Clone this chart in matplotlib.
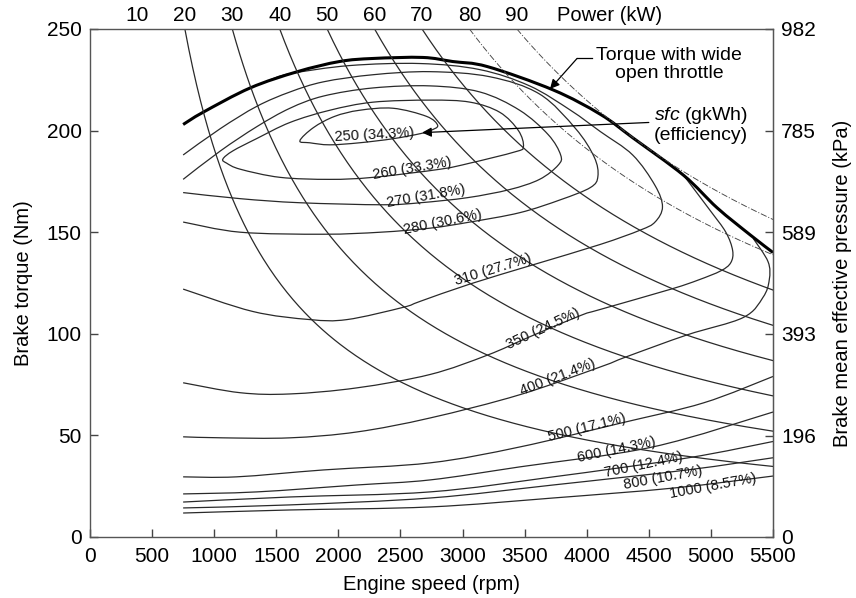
import numpy as np
import matplotlib
matplotlib.use('Agg')
import matplotlib.pyplot as plt
from matplotlib.path import Path
from matplotlib.patches import PathPatch

plt.rcParams['font.family'] = ['Liberation Sans', 'DejaVu Sans']
plt.rcParams['mathtext.fontset'] = 'custom'
plt.rcParams['mathtext.it'] = 'Liberation Sans:italic'
plt.rcParams['mathtext.rm'] = 'Liberation Sans'

# ---- data ----
# wide open throttle torque curve
wot_rpm = [750, 910, 1290, 1670, 2010, 2280, 2680, 2920, 3200, 3730, 4110, 4370, 4780, 5050, 5320, 5500]
wot_nm = [203, 209, 221, 229, 234, 235.5, 236, 234, 231.5, 220, 208, 196.5, 178, 162, 148.5, 140]

# constant power lines (kW)
power_solid = [20, 30, 40, 50, 60, 70]
power_dashed = [80, 90]
power_ticks = [10, 20, 30, 40, 50, 60, 70, 80, 90]

# sfc contours (g/kWh), each traced as rpm / torque lists
sfc_250_rpm = [1690, 1800, 1970, 2170, 2440, 2710, 2800, 2740, 2660, 2440, 2170, 1930, 1770]
sfc_250_nm = [195, 201.5, 207, 210, 211, 207, 202.5, 200, 198.5, 196, 194, 193, 194]

sfc_260_rpm = [1070, 1150, 1340, 1610, 1930, 2280, 2740, 3060, 3300, 3450, 3490, 3420, 3060, 2820,
               2280, 1930, 1530, 1210, 1100]
sfc_260_nm = [186, 190, 196, 204, 210, 214, 215, 214, 209, 200, 192, 189.5, 184, 181,
              177, 176, 177, 181, 184]

sfc_270_rpm = [750, 1050, 1345, 1610, 1880, 2280, 2740, 3140, 3460, 3690, 3790, 3770, 3620, 3380,
               3040, 2660, 2360, 1690, 1210, 750]
sfc_270_nm = [176, 190, 202, 211, 217, 221, 222, 219, 210, 198, 188, 183, 176, 171,
              167, 164.5, 163.5, 164.5, 166.5, 169.5]

sfc_280_rpm = [750, 1050, 1345, 1610, 1880, 2280, 2740, 3220, 3620, 3910, 4060, 4090, 4030, 3790,
               3460, 3060, 2740, 2340, 1880, 1210, 750]
sfc_280_nm = [188, 201, 212, 219, 224, 227.5, 229, 226.5, 218, 201, 187, 177.5, 172, 166,
              159.6, 155, 152, 150, 149, 150, 155]

sfc_310_rpm = [1450, 1610, 2090, 2660, 3140, 3540, 3870, 4110, 4370, 4550, 4610, 4550, 4430, 4110,
               3570, 3060, 2660, 2520, 2070, 1770, 1310, 750]
sfc_310_nm = [225, 228, 232, 233, 230, 222, 210, 199.5, 188, 173, 162.5, 155, 151, 144,
              134, 124.5, 116, 113, 107, 107, 111, 122]

sfc_350_rpm = [4780, 4990, 5120, 5175, 5160, 5080, 4900, 4680, 4110, 3950, 3540, 3200, 2740, 2150,
               1610, 1210, 750]
sfc_350_nm = [178, 161, 150, 141, 135, 131, 126.5, 122, 112, 109, 98.5, 89.5, 80, 73.4,
              70.4, 71, 75.9]

sfc_400_rpm = [5340, 5460, 5470, 5420, 5260, 4810, 4320, 4110, 3460, 2740, 2150, 1610, 1070, 750]
sfc_400_nm = [147, 135.5, 126.6, 118, 108, 99.5, 88.7, 83.7, 70, 58.6, 51.7, 48.8, 48.8, 49.3]

sfc_500_rpm = [750, 1180, 1880, 2740, 3460, 4270, 4940, 5500]
sfc_500_nm = [29.6, 29.6, 33, 36.5, 44.3, 56, 66, 79]

sfc_600_rpm = [750, 1345, 2150, 2740, 3460, 4530, 5500]
sfc_600_nm = [21.2, 22.2, 25.6, 28.1, 34.5, 44.3, 61.5]

sfc_700_rpm = [750, 1610, 2740, 3730, 4810, 5500]
sfc_700_nm = [17.2, 19.7, 22.2, 29.6, 38.9, 47]

sfc_800_rpm = [750, 1610, 2740, 3730, 4810, 5500]
sfc_800_nm = [14.3, 15.8, 19.2, 25.6, 33, 39]

sfc_1000_rpm = [750, 1610, 2740, 3730, 4700, 5500]
sfc_1000_nm = [11.8, 13.3, 14.8, 19.2, 24.1, 30]

# contour labels: text, position (rpm, Nm), rotation (deg)
sfc_labels = ['250 (34.3%)', '260 (33.3%)', '270 (31.8%)', '280 (30.6%)', '310 (27.7%)',
              '350 (24.5%)', '400 (21.4%)', '500 (17.1%)', '600 (14.3%)', '700 (12.4%)',
              '800 (10.7%)', '1000 (8.57%)']
label_rpm = [2287, 2593, 2706, 2843, 3245, 3648, 3769, 4002, 4244, 4461, 4614, 5017]
label_nm = [197.9, 181.2, 167.5, 154.7, 131.6, 102.2, 78.6, 54, 42.7, 35.4, 29, 25]
label_rot = [3, 9.5, 10, 11.5, 17, 25, 21, 14, 12, 12, 10.5, 10.5]

bmep_ticks = [0, 196, 393, 589, 785, 982]
NM_TO_KPA = 982 / 250.0

open_curves = [(sfc_270_rpm, sfc_270_nm), (sfc_280_rpm, sfc_280_nm), (sfc_310_rpm, sfc_310_nm),
               (sfc_350_rpm, sfc_350_nm), (sfc_400_rpm, sfc_400_nm), (sfc_500_rpm, sfc_500_nm),
               (sfc_600_rpm, sfc_600_nm), (sfc_700_rpm, sfc_700_nm), (sfc_800_rpm, sfc_800_nm),
               (sfc_1000_rpm, sfc_1000_nm)]
closed_curves = [(sfc_250_rpm, sfc_250_nm), (sfc_260_rpm, sfc_260_nm)]


def smooth_path(xs, ys, closed=False):
    """Catmull-Rom style cubic path through the traced points."""
    pts = np.column_stack([xs, ys]).astype(float)
    n = len(pts)
    verts = [pts[0]]
    codes = [Path.MOVETO]
    nseg = n if closed else n - 1
    for i in range(nseg):
        p1 = pts[i]
        p2 = pts[(i + 1) % n]
        if closed or i > 0:
            p0 = pts[(i - 1) % n]
        else:
            p0 = p1
        if closed or i + 2 < n:
            p3 = pts[(i + 2) % n]
        else:
            p3 = p2
        verts += [p1 + (p2 - p0) / 6.0, p2 - (p3 - p1) / 6.0, p2]
        codes += [Path.CURVE4] * 3
    return Path(verts, codes)


fig = plt.figure(figsize=(8.56, 5.98), dpi=100)
ax = fig.add_axes([90 / 856, 61 / 598, 683 / 856, 508 / 598])
ax.set_xlim(0, 5500)
ax.set_ylim(0, 250)

line_col = '#2a2a2a'

# constant power hyperbolas: T = P / omega
def power_curve(p_kw):
    n0 = p_kw * 60000 / (2 * np.pi * 250)
    n = np.linspace(n0, 5500, 300)
    return n, p_kw * 60000 / (2 * np.pi * n)

for p in power_solid:
    n, t = power_curve(p)
    ax.plot(n, t, color=line_col, lw=0.9)
for p in power_dashed:
    n, t = power_curve(p)
    ax.plot(n, t, color='#444444', lw=0.65, linestyle=(0, (7, 2, 1.2, 2)))

for rpm, nm in open_curves:
    ax.add_patch(PathPatch(smooth_path(rpm, nm), fill=False, edgecolor=line_col, lw=0.9))
for rpm, nm in closed_curves:
    ax.add_patch(PathPatch(smooth_path(rpm, nm, closed=True), fill=False, edgecolor=line_col, lw=0.9))

ax.add_patch(PathPatch(smooth_path(wot_rpm, wot_nm), fill=False, edgecolor='black', lw=2.2,
                       capstyle='butt'))

for txt, x, y, r in zip(sfc_labels, label_rpm, label_nm, label_rot):
    ax.text(x, y, txt, fontsize=10.5, rotation=r, rotation_mode='anchor',
            ha='center', va='center', color='#111111')

# annotations
ax.text(4662, 232.5, 'Torque with wide\nopen throttle', fontsize=14, ha='center', va='center',
        linespacing=1.05)
ax.annotate('', xy=(3704, 220.5), xytext=(3922, 235.5),
            arrowprops=dict(arrowstyle='-|>', color='black', lw=0.9, mutation_scale=14,
                            shrinkA=0, shrinkB=0))
ax.plot([3922, 4040], [235.5, 235.5], color='black', lw=0.9)

ax.text(4540, 203, '$sfc$ (gkWh)\n(efficiency)', fontsize=14, ha='left', va='center',
        linespacing=1.05)
ax.annotate('', xy=(2674, 199), xytext=(4500, 204),
            arrowprops=dict(arrowstyle='-|>', color='black', lw=0.9, mutation_scale=14,
                            shrinkA=0, shrinkB=0))

# axes styling
ax.set_xticks(np.arange(0, 5501, 500))
ax.set_yticks(np.arange(0, 251, 50))
ax.tick_params(direction='in', length=6, width=1, labelsize=15, pad=6, color='#444444')
ax.tick_params(axis='x', pad=7)
ax.set_xlabel('Engine speed (rpm)', fontsize=14.5, labelpad=7)
ax.set_ylabel('Brake torque (Nm)', fontsize=14.5, labelpad=10)
for s in ax.spines.values():
    s.set_color('#555555')
    s.set_linewidth(1.0)

k = 2 * np.pi * 250 / 60000
top = ax.secondary_xaxis('top', functions=(lambda n: n * k, lambda p: p / k))
top.set_xticks(power_ticks)
top.tick_params(length=0, labelsize=15, pad=3)
top.spines['top'].set_visible(False)
ax.annotate('Power (kW)', xy=(0.761, 1), xycoords='axes fraction', xytext=(0, 3),
            textcoords='offset points', ha='center', va='bottom', fontsize=14.5)

right = ax.secondary_yaxis('right', functions=(lambda t: t * NM_TO_KPA, lambda b: b / NM_TO_KPA))
right.set_yticks(bmep_ticks)
right.tick_params(direction='in', length=6, width=1, labelsize=15, pad=6, color='#444444')
right.spines['right'].set_color('#555555')
right.set_ylabel('Brake mean effective pressure (kPa)', fontsize=14.5, labelpad=12)

fig.savefig('out.png', dpi=100)
